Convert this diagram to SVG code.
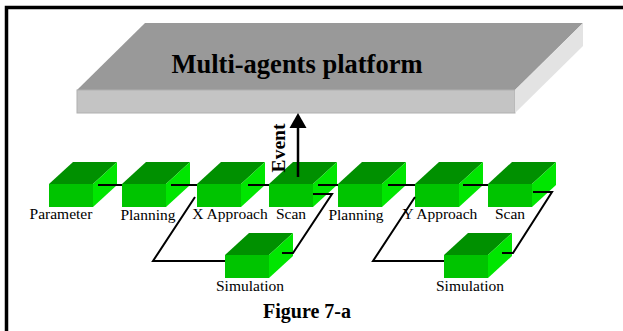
<svg xmlns="http://www.w3.org/2000/svg" xmlns:xlink="http://www.w3.org/1999/xlink" width="623" height="331" viewBox="0 0 623 331">
<style>
.lbl{font-family:"Liberation Serif","Times New Roman",serif;font-size:15.5px;fill:#000;text-anchor:middle}
.bold{font-family:"Liberation Serif","Times New Roman",serif;font-weight:bold;fill:#000;text-anchor:middle}
.conn{fill:none;stroke:#000;stroke-width:2}
.top{fill:#009000}
.front{fill:#00c400}
.side{fill:#00e600}
</style>
<defs>
<g id="box">
<polygon class="top" points="0,0 24,-22 68,-22 44,0"/>
<rect class="front" x="0" y="0" width="44" height="23"/>
<polygon class="side" points="44,0 68,-22 68,1 44,23"/>
</g>
</defs>
<rect x="0" y="0" width="623" height="331" fill="#fff"/>
<rect x="6.5" y="7.5" width="700" height="400" fill="none" stroke="#000" stroke-width="3.5"/>

<g id="platform">
<polygon points="145,23 583,23 515,90 77,90" fill="#999999"/>
<rect x="77" y="90" width="438" height="23" fill="#c4c4c4" stroke="#b0b0b0" stroke-width="1"/>
<polygon points="515,90 583,23 583,46 515,113" fill="#e3e3e3"/>
<text class="bold" x="297" y="73" font-size="26.5">Multi-agents platform</text>
</g>

<g id="nodes">
<g id="parameter"><use xlink:href="#box" x="49" y="184"/><text class="lbl" x="61" y="219">Parameter</text></g>
<g id="planning1"><use xlink:href="#box" x="122" y="184"/><text class="lbl" x="148" y="220">Planning</text></g>
<g id="xapproach"><use xlink:href="#box" x="197" y="184"/><text class="lbl" x="230" y="219">X Approach</text></g>
<g id="scan1"><use xlink:href="#box" x="269" y="184"/><text class="lbl" x="291" y="219">Scan</text></g>
<g id="planning2"><use xlink:href="#box" x="338" y="184"/><text class="lbl" x="356" y="220">Planning</text></g>
<g id="yapproach"><use xlink:href="#box" x="415" y="184"/><text class="lbl" x="440" y="219">Y Approach</text></g>
<g id="scan2"><use xlink:href="#box" x="488" y="184"/><text class="lbl" x="510" y="219">Scan</text></g>
<g id="simulation1"><use xlink:href="#box" x="225" y="255"/><text class="lbl" x="250" y="291">Simulation</text></g>
<g id="simulation2"><use xlink:href="#box" x="444" y="255"/><text class="lbl" x="470" y="291">Simulation</text></g>
</g>

<g id="connectors">
<line class="conn" x1="98" y1="185" x2="122" y2="185"/>
<line class="conn" x1="171" y1="185" x2="197" y2="185"/>
<line class="conn" x1="248" y1="185" x2="269" y2="185"/>
<line class="conn" x1="318" y1="185" x2="338" y2="185"/>
<line class="conn" x1="388" y1="185" x2="415" y2="185"/>
<line class="conn" x1="463" y1="185" x2="488" y2="185"/>
<polyline class="conn" points="313,194 332,194 293,253 282,253"/>
<polyline class="conn" points="195,197 153,261 225,261"/>
<polyline class="conn" points="533,192 552,192 513,253 502,253"/>
<polyline class="conn" points="415,197 373,261 444,261"/>
<g id="event">
<line x1="298" y1="177" x2="298" y2="126" stroke="#000" stroke-width="2.5"/>
<polygon points="298,113 306.5,128 289.5,128" fill="#000"/>
<text class="bold" font-size="19.5" transform="translate(284.5,148) rotate(-90)">Event</text>
</g>
</g>

<text class="bold" x="307" y="318" font-size="20">Figure 7-a</text>
</svg>
